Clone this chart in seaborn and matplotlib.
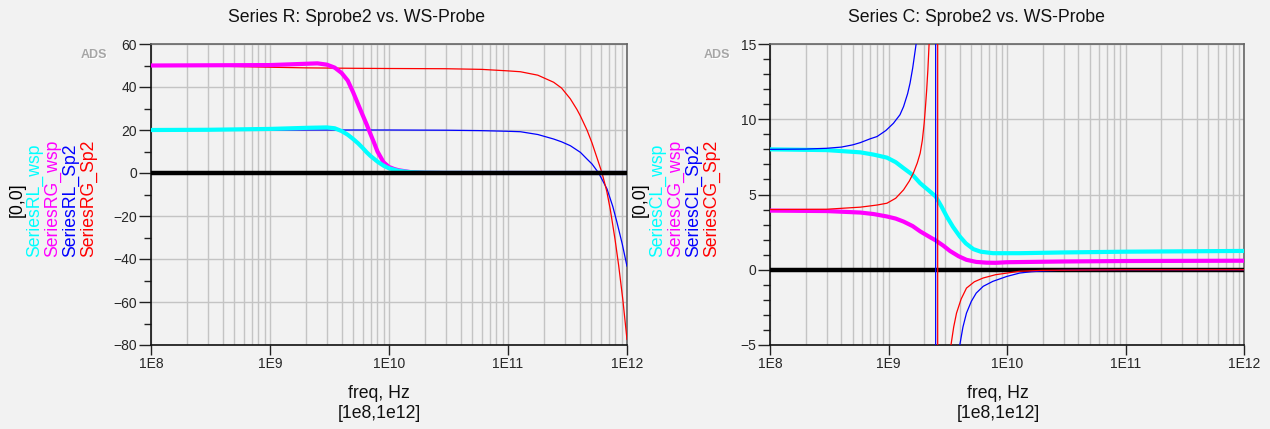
import numpy as np
import seaborn as sns
import matplotlib.pyplot as plt
from matplotlib.ticker import FixedLocator, LogLocator, NullFormatter, MultipleLocator

# ---------------- data ----------------
# Series R
freq_rl_wsp = [1e8, 3e8, 1e9, 2e9, 3e9, 3.5e9, 4e9, 4.5e9, 5e9, 5.5e9, 6e9, 6.5e9,
               7e9, 8e9, 9e9, 1e10, 1.2e10, 1.5e10, 2e10, 3e10, 1e11, 1e12]
val_rl_wsp = [20.0, 20.1, 20.5, 21.0, 21.2, 20.8, 19.5, 17.8, 15.8, 13.8, 11.7, 9.6,
              7.9, 5.3, 3.4, 2.2, 1.0, 0.4, 0.15, 0.05, 0.02, 0.0]

freq_rg_wsp = [1e8, 3e8, 1e9, 2e9, 2.5e9, 3e9, 3.5e9, 4e9, 4.5e9, 5e9, 5.5e9, 6e9,
               6.5e9, 7e9, 7.5e9, 8e9, 9e9, 1e10, 1.1e10, 1.2e10, 1.5e10, 2e10, 3e10, 1e12]
val_rg_wsp = [50.0, 50.1, 50.2, 50.8, 51.0, 50.4, 49.0, 46.5, 43.0, 37.5, 32.0, 27.0,
              22.5, 18.0, 14.0, 10.0, 5.0, 2.8, 1.9, 1.3, 0.45, 0.12, 0.03, 0.0]

freq_rl_sp2 = [1e8, 1e9, 1e10, 3e10, 6e10, 1e11, 1.27e11, 1.78e11, 2.42e11, 2.82e11,
               3.34e11, 4.06e11, 4.61e11, 5.08e11, 5.78e11, 6.79e11, 7.59e11,
               8.24e11, 9.12e11, 1e12]
val_rl_sp2 = [20.0, 20.0, 20.0, 19.9, 19.7, 19.4, 19.2, 17.9, 15.8, 14.5,
              12.7, 9.6, 6.5, 4.2, 0.0, -7.4, -15.5,
              -23.0, -33.0, -43.4]

freq_rg_sp2 = [1e8, 3e8, 1e9, 2e9, 5e9, 1e10, 3e10, 6e10, 1e11, 1.27e11, 1.78e11,
               2.42e11, 2.82e11, 3.34e11, 3.8e11, 4.06e11, 4.61e11, 5.08e11, 5.6e11,
               6.17e11, 6.76e11, 7.24e11, 7.94e11, 8.51e11, 9.23e11, 1e12]
val_rg_sp2 = [50.0, 49.8, 49.2, 48.9, 48.7, 48.6, 48.5, 48.2, 47.5, 47.1, 45.5,
              42.2, 39.5, 34.5, 29.5, 26.5, 20.0, 14.0, 7.0,
              0.0, -8.5, -17.0, -31.0, -43.0, -59.0, -77.5]

# Series C
freq_cl_wsp = [1e8, 3e8, 5.8e8, 7.5e8, 9.7e8, 1.15e9, 1.34e9, 1.6e9, 1.85e9, 2.2e9,
               2.5e9, 2.8e9, 3.1e9, 3.5e9, 4e9, 4.5e9, 5.2e9, 6e9, 7.6e9, 1.28e10,
               3e10, 1e11, 1e12]
val_cl_wsp = [8.0, 7.95, 7.8, 7.65, 7.45, 7.15, 6.75, 6.3, 5.75, 5.25,
              4.87, 4.2, 3.54, 2.85, 2.21, 1.75, 1.37, 1.2, 1.1, 1.1,
              1.15, 1.2, 1.25]

freq_cg_wsp = [1e8, 3e8, 5.8e8, 7.5e8, 9.7e8, 1.15e9, 1.34e9, 1.6e9, 1.85e9, 2.2e9,
               2.5e9, 2.9e9, 3.3e9, 3.9e9, 4.55e9, 5.5e9, 6.7e9, 8e9, 1e10, 3e10,
               1e11, 1e12]
val_cg_wsp = [3.93, 3.9, 3.8, 3.7, 3.54, 3.4, 3.2, 2.9, 2.55, 2.2,
              1.95, 1.6, 1.25, 0.9, 0.66, 0.52, 0.47, 0.46, 0.5, 0.55,
              0.58, 0.6]

freq_cl_sp2 = [1e8, 2e8, 3e8, 4e8, 5e8, 5.8e8, 7e8, 8e8, 9.5e8, 1.1e9, 1.25e9, 1.34e9,
               1.45e9, 1.52e9, 1.6e9, 1.71e9, 1.9e9, 2.2e9, 2.4e9, 2.5e9, 2.5e9,
               2.6e9, 3e9, 3.5e9, 3.8e9, 4e9, 4.25e9, 4.55e9, 5e9, 5.5e9, 6.3e9,
               7.6e9, 1e10, 1.28e10, 1.6e10, 2e10, 3e10, 5e10, 1e11, 1e12]
val_cl_sp2 = [8.0, 8.02, 8.07, 8.15, 8.3, 8.45, 8.7, 8.85, 9.25, 9.73, 10.3, 10.84,
              11.7, 12.4, 13.4, 15.0, 18.5, 35.0, 100.0, 300.0, -300.0,
              -60.0, -16.0, -8.0, -6.0, -4.98, -3.8, -2.88, -2.1, -1.55, -1.1,
              -0.77, -0.44, -0.22, -0.13, -0.08, -0.03, -0.01, 0.0, 0.0]

freq_cg_sp2 = [1e8, 3e8, 5.8e8, 8e8, 9.7e8, 1.15e9, 1.34e9, 1.5e9, 1.62e9, 1.75e9,
               1.85e9, 1.93e9, 2.0e9, 2.05e9, 2.1e9, 2.15e9, 2.2e9, 2.35e9, 2.5e9,
               2.6e9, 2.6e9, 2.8e9, 3.1e9, 3.37e9, 3.55e9, 3.75e9, 4.1e9, 4.55e9,
               5.3e9, 6.28e9, 8e9, 1e10, 1.28e10, 2e10, 1e11, 1e12]
val_cg_sp2 = [4.0, 4.02, 4.16, 4.3, 4.42, 4.75, 5.31, 5.9, 6.42, 7.1,
              7.74, 8.6, 9.73, 10.8, 11.95, 13.3, 15.0, 25.0, 70.0,
              300.0, -300.0, -20.0, -8.0, -4.98, -3.8, -2.88, -1.95, -1.22,
              -0.8, -0.55, -0.33, -0.22, -0.1, -0.04, 0.0, 0.0]

freq_zero = [1e8, 1e12]
val_zero = [0.0, 0.0]

CYAN, MAGENTA, BLUE, RED = '#00ffff', '#ff00ff', '#0000ff', '#ff0000'
BG = '#f2f2f2'

sns.set_theme(style='white')
plt.rcParams['font.family'] = ['Liberation Sans', 'DejaVu Sans']
plt.rcParams['figure.facecolor'] = BG
plt.rcParams['axes.facecolor'] = BG

W, H = 1270, 429
fig = plt.figure(figsize=(W / 100, H / 100), dpi=100)


def px(x, y):
    """pixel -> figure fraction"""
    return x / W, 1 - y / H


def make_axes(x0, x1, y0, y1):
    l, t = px(x0, y0)
    r, b = px(x1, y1)
    return fig.add_axes([l, b, r - l, t - b])


def style_axes(ax, ylim, ymajor, yminor):
    ax.set_xscale('log')
    ax.set_xlim(1e8, 1e12)
    ax.set_ylim(*ylim)
    ax.xaxis.set_major_locator(FixedLocator([1e8, 1e9, 1e10, 1e11, 1e12]))
    ax.set_xticklabels(['1E8', '1E9', '1E10', '1E11', '1E12'])
    ax.xaxis.set_minor_locator(LogLocator(base=10, subs=np.arange(2, 10)))
    ax.xaxis.set_minor_formatter(NullFormatter())
    ax.yaxis.set_major_locator(MultipleLocator(ymajor))
    ax.yaxis.set_minor_locator(MultipleLocator(yminor))
    ax.grid(which='major', axis='both', color='#c4c4c4', lw=1.0)
    ax.grid(which='minor', axis='x', color='#c4c4c4', lw=1.0)
    ax.tick_params(axis='x', which='major', direction='out', length=7, width=1,
                   color='#222222', labelsize=10, pad=2, bottom=True)
    ax.tick_params(axis='x', which='minor', length=0)
    ax.tick_params(axis='y', which='major', direction='out', length=9, width=1,
                   color='#222222', labelsize=10, pad=1, left=True)
    ax.tick_params(axis='y', which='minor', direction='out', length=5, width=1,
                   color='#222222', left=True)
    for s in ['left', 'bottom']:
        ax.spines[s].set_color('#111111')
        ax.spines[s].set_linewidth(1.2)
    for s in ['top', 'right']:
        ax.spines[s].set_color('#666666')
        ax.spines[s].set_linewidth(1.2)
    ax.set_xlabel('')
    ax.set_ylabel('')


def draw(ax, f, v, color, lw, z):
    sns.lineplot(x=f, y=v, ax=ax, color=color, linewidth=lw, estimator=None,
                 sort=False, zorder=z)


# ---------------- left: Series R ----------------
axR = make_axes(151, 627, 44, 345)
draw(axR, freq_rl_sp2, val_rl_sp2, BLUE, 0.9, 3)
draw(axR, freq_rg_sp2, val_rg_sp2, RED, 0.9, 3)
draw(axR, freq_rg_wsp, val_rg_wsp, MAGENTA, 3.0, 4)
draw(axR, freq_rl_wsp, val_rl_wsp, CYAN, 3.0, 5)
draw(axR, freq_zero, val_zero, 'black', 3.2, 6)
style_axes(axR, (-80, 60), 20, 10)

# ---------------- right: Series C ----------------
axC = make_axes(770, 1244, 44, 345)
draw(axC, freq_cg_wsp, val_cg_wsp, MAGENTA, 3.0, 3)
draw(axC, freq_cl_wsp, val_cl_wsp, CYAN, 3.0, 4)
draw(axC, freq_zero, val_zero, 'black', 3.2, 5)
draw(axC, freq_cl_sp2, val_cl_sp2, BLUE, 0.9, 6)
draw(axC, freq_cg_sp2, val_cg_sp2, RED, 0.9, 6)
style_axes(axC, (-5, 15), 5, 1)

# ---------------- texts ----------------
FS = 12.7
for cx, title in [(357, 'Series R: Sprobe2 vs. WS-Probe'), (976, 'Series C: Sprobe2 vs. WS-Probe')]:
    fig.text(*px(cx, 18), title, ha='center', va='center', fontsize=FS, color='#111111')

for cx in (379, 998):
    fig.text(*px(cx, 393), 'freq, Hz', ha='center', va='center', fontsize=FS, color='#111111')
    fig.text(*px(cx, 414), '[1e8,1e12]', ha='center', va='center', fontsize=FS, color='#111111')

for cx in (94, 717):
    fig.text(*px(cx + 0.8, 55.8), 'ADS', ha='center', va='center', fontsize=9,
             fontweight='bold', color='white')
    fig.text(*px(cx, 55), 'ADS', ha='center', va='center', fontsize=9,
             fontweight='bold', color='#a6a6a6')

legend_R = [(35, 'SeriesRL_wsp', CYAN), (53, 'SeriesRG_wsp', MAGENTA),
            (71, 'SeriesRL_Sp2', BLUE), (89, 'SeriesRG_Sp2', RED)]
legend_C = [(658, 'SeriesCL_wsp', CYAN), (676, 'SeriesCG_wsp', MAGENTA),
            (694, 'SeriesCL_Sp2', BLUE), (712, 'SeriesCG_Sp2', RED)]
for x0, items in [(17, legend_R), (640, legend_C)]:
    fig.text(*px(x0, 200), '[0,0]', rotation=90, ha='center', va='center',
             fontsize=FS, color='black')
    for cx, name, col in items:
        fig.text(*px(cx, 257), name, rotation=90, ha='center', va='bottom',
                 fontsize=FS, color=col)

fig.savefig('out.png', dpi=100, facecolor=BG)
